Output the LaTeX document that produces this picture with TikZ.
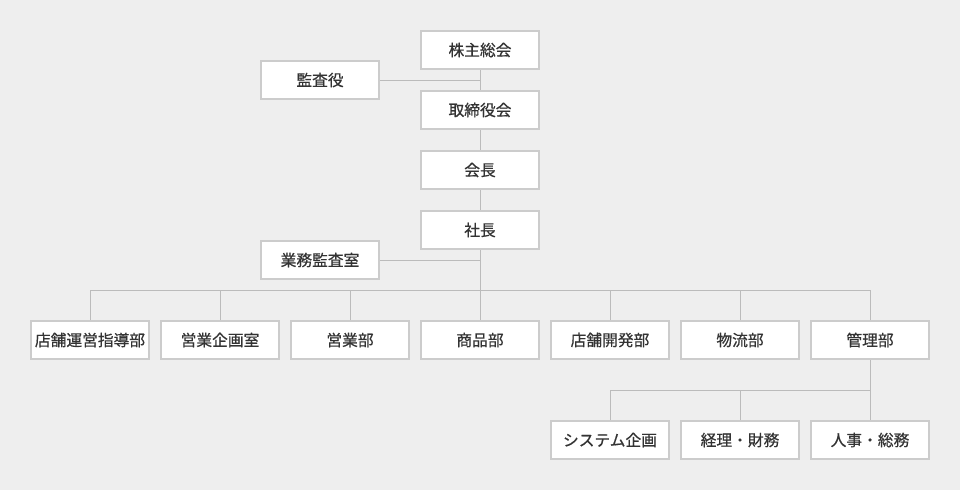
\documentclass[tikz,border=0pt]{standalone}
\usepackage{fontspec}
\setmainfont{Noto Sans CJK JP}[FakeBold=0.6]
\definecolor{bgcol}{RGB}{238,238,238}
\definecolor{boxline}{RGB}{204,204,204}
\definecolor{conline}{RGB}{187,187,187}
\definecolor{txtcol}{RGB}{51,51,51}
\tikzset{every picture/.style={line width=0.75pt}}
\tikzset{
  orgbox/.style={draw=boxline, line width=1.5pt, fill=white, text=txtcol,
    minimum width=88.5pt, minimum height=28.5pt, inner sep=0pt, font=\fontsize{11.8}{13}\selectfont},
  conn/.style={draw=conline, line width=0.75pt}
}

\begin{document}
\begin{tikzpicture}[x=0.75pt,y=0.75pt,yscale=-1,xscale=1]
%background
\fill[bgcol] (0,0) rectangle (960,490);
\useasboundingbox (0,0) rectangle (960,490);

%Top line
\node[orgbox] (kabunushi) at (480,50) {株主総会};
\node[orgbox] (kansayaku) at (320,80) {監査役};
\node[orgbox] (torishimari) at (480,110) {取締役会};
\node[orgbox] (kaicho) at (480,170) {会長};
\node[orgbox] (shacho) at (480,230) {社長};
\node[orgbox] (gyomukansa) at (320,260) {業務監査室};

%Departments
\node[orgbox] (tenpounei) at (90,340) {店舗運営指導部};
\node[orgbox] (eigyokikaku) at (220,340) {営業企画室};
\node[orgbox] (eigyo) at (350,340) {営業部};
\node[orgbox] (shohin) at (480,340) {商品部};
\node[orgbox] (tenpokaihatsu) at (610,340) {店舗開発部};
\node[orgbox] (butsuryu) at (740,340) {物流部};
\node[orgbox] (kanri) at (870,340) {管理部};

%Sections under kanri
\node[orgbox] (system) at (610,440) {システム企画};
\node[orgbox] (keiri) at (740,440) {経理・財務};
\node[orgbox] (jinji) at (870,440) {人事・総務};

\coordinate (bus) at (480,290);
\coordinate (subbus) at (870,390);

%Connectors
\draw[conn] (kabunushi.south) -- (torishimari.north);
\draw[conn] (kansayaku.east) -- (kansayaku.east -| kabunushi);
\draw[conn] (torishimari.south) -- (kaicho.north);
\draw[conn] (kaicho.south) -- (shacho.north);
\draw[conn] (shacho.south) -- (shohin.north);
\draw[conn] (gyomukansa.east) -- (gyomukansa.east -| shacho);
\draw[conn] (bus -| tenpounei) -- (bus -| kanri);
\foreach \d in {tenpounei,eigyokikaku,eigyo,tenpokaihatsu,butsuryu,kanri}
  \draw[conn] (\d.north) -- (\d.north |- bus);
\draw[conn] (kanri.south) -- (jinji.north);
\draw[conn] (subbus -| system) -- (subbus);
\foreach \d in {system,keiri}
  \draw[conn] (\d.north) -- (\d.north |- subbus);

\end{tikzpicture}
\end{document}
